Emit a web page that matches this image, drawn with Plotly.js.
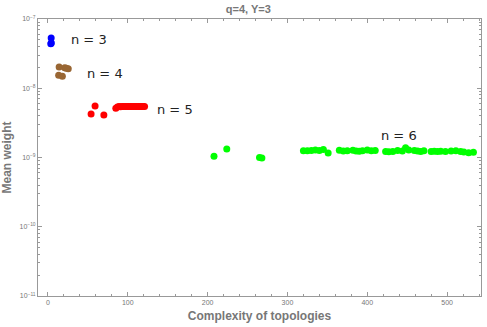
<!DOCTYPE html>
<html>
<head>
<meta charset="utf-8">
<script src="https://cdn.plot.ly/plotly-3.0.1.min.js"></script>
<style>html,body{margin:0;padding:0;background:#fff;}#chart{width:487px;height:327px;}</style>
</head>
<body>
<div id="chart"></div>
<script>
// n = 3
const n3x = [4, 3.5, 4.2];
const n3y = [5.3e-8, 4.4e-8, 4.5e-8];
// n = 4
const n4x = [14, 21, 25.4, 13.4, 18, 23];
const n4y = [2.03e-8, 1.98e-8, 1.92e-8, 1.54e-8, 1.49e-8, 1.95e-8];
// n = 5
const n5x = [59, 54, 70, 85, 87, 89, 91, 93, 95, 97, 99, 101, 103, 105, 107, 109, 111, 113, 115, 117, 119, 121];
const n5y = [5.56e-9, 4.26e-9, 4.12e-9, 5.14e-9, 5.35e-9, 5.45e-9, 5.42e-9, 5.45e-9, 5.43e-9, 5.45e-9, 5.44e-9, 5.45e-9, 5.43e-9, 5.45e-9, 5.44e-9, 5.46e-9, 5.43e-9, 5.45e-9, 5.44e-9, 5.45e-9, 5.46e-9, 5.45e-9];
// n = 6
const n6x = [208, 224, 265, 268, 320, 325, 330, 335, 340, 345, 351, 365, 370, 375, 382, 386, 390, 394, 400, 405, 410, 423, 427, 432, 438, 444, 448, 452, 459, 463, 467, 471, 480, 484, 488, 492, 498, 505, 511, 517, 521, 527, 533];
const n6y = [1.04e-9, 1.33e-9, 1.0e-9, 0.98e-9, 1.25e-9, 1.25e-9, 1.26e-9, 1.28e-9, 1.26e-9, 1.3e-9, 1.16e-9, 1.27e-9, 1.24e-9, 1.25e-9, 1.27e-9, 1.24e-9, 1.23e-9, 1.25e-9, 1.28e-9, 1.25e-9, 1.26e-9, 1.22e-9, 1.21e-9, 1.22e-9, 1.26e-9, 1.24e-9, 1.38e-9, 1.28e-9, 1.26e-9, 1.24e-9, 1.22e-9, 1.25e-9, 1.22e-9, 1.23e-9, 1.22e-9, 1.23e-9, 1.22e-9, 1.24e-9, 1.25e-9, 1.22e-9, 1.2e-9, 1.17e-9, 1.19e-9];
// labels
const groupLabels = ['n = 3', 'n = 4', 'n = 5', 'n = 6'];
const labelX = [52, 72, 159, 440];
const labelY = [5.1e-8, 1.66e-8, 5.0e-9, 2.1e-9];
const yTickVals = [1e-11, 1e-10, 1e-9, 1e-8, 1e-7];
const yTickText = ['10<sup>\u221211</sup>', '10<sup>\u221210</sup>', '10<sup>\u22129</sup>', '10<sup>\u22128</sup>', '10<sup>\u22127</sup>'];

function tr(x, y, c) {
  return {x: x, y: y, type: 'scatter', mode: 'markers', marker: {color: c, size: 7}, showlegend: false, hoverinfo: 'none'};
}
const data = [
  tr(n3x, n3y, '#0000ff'),
  tr(n4x, n4y, '#996633'),
  tr(n5x, n5y, '#ff0000'),
  tr(n6x, n6y, '#00ff00')
];
const gray = '#999999';
const layout = {
  width: 487, height: 327,
  margin: {l: 38, r: 6, t: 19, b: 31},
  paper_bgcolor: '#fff', plot_bgcolor: '#fff',
  title: {text: '<b>q=4, Y=3</b>', x: 0.51, xanchor: 'center', y: 0.985, yanchor: 'top', font: {family: 'Liberation Sans, Arial, sans-serif', size: 11, color: '#777'}},
  xaxis: {
    range: [-12.5, 542.5], showgrid: false, zeroline: false,
    showline: true, linecolor: gray, linewidth: 1, mirror: 'ticks',
    ticks: 'inside', ticklen: 4, tickcolor: gray,
    tickvals: [0, 100, 200, 300, 400, 500],
    tickfont: {family: 'Liberation Sans, Arial, sans-serif', size: 7, color: '#777'},
    minor: {dtick: 20, tick0: 0, ticks: 'inside', ticklen: 2, tickcolor: gray, showgrid: false},
    title: {text: '<b>Complexity of topologies</b>', standoff: 6, font: {family: 'Liberation Sans, Arial, sans-serif', size: 12, color: '#777'}}
  },
  yaxis: {
    type: 'log', range: [-11, -7], showgrid: false, zeroline: false,
    showline: true, linecolor: gray, linewidth: 1, mirror: 'ticks',
    ticks: 'inside', ticklen: 4, tickcolor: gray,
    tickvals: yTickVals, ticktext: yTickText,
    tickfont: {family: 'Liberation Sans, Arial, sans-serif', size: 7, color: '#777'},
    minor: {dtick: 'D1', ticks: 'inside', ticklen: 2, tickcolor: gray, showgrid: false},
    title: {text: '<b>Mean weight</b>', standoff: 6, font: {family: 'Liberation Sans, Arial, sans-serif', size: 12, color: '#777'}}
  },
  annotations: groupLabels.map((t, i) => ({
    x: labelX[i], y: Math.log10(labelY[i]), xref: 'x', yref: 'y', text: t, showarrow: false,
    xanchor: 'center', yanchor: 'middle',
    font: {family: 'DejaVu Sans, sans-serif', size: 13, color: '#222'}
  }))
};
Plotly.newPlot('chart', data, layout, {staticPlot: true});
</script>
</body>
</html>
